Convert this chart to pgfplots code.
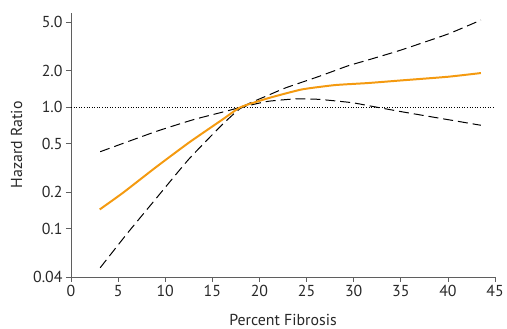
\documentclass[border=0pt]{standalone}
\usepackage{pgfplots}
\pgfplotsset{compat=1.18}
\usepackage{fontspec}
\setmainfont{PT Sans}
\definecolor{orng}{RGB}{244,154,16}
\definecolor{axgray}{RGB}{95,95,95}
\definecolor{txt}{RGB}{40,40,40}
\begin{document}
\begin{tikzpicture}
\begin{axis}[
  scale only axis, width=426bp, height=265.6bp,
  xmin=0, xmax=45, ymin=0.04, ymax=6,
  ymode=log,
  axis lines=left,
  axis line style={-, axgray, line width=0.8pt},
  xtick={0,5,...,45},
  ytick={0.04,0.1,0.2,0.5,1,2,5},
  yticklabels={0.04,0.1,0.2,0.5,1.0,2.0,5.0},
  yminorticks=false, xminorticks=false,
  tick align=outside, major tick length=5bp,
  tick style={axgray, line width=0.8pt},
  /pgf/number format/assume math mode=true,
  tick label style={font=\fontsize{16}{18}\selectfont, text=txt},
  label style={font=\fontsize{16}{18}\selectfont, text=txt},
  xlabel={Percent Fibrosis}, ylabel={Hazard Ratio},
  xlabel style={at={(axis description cs:0.5,-0.1822)}, anchor=base},
  ylabel style={at={(axis description cs:-0.115,0.5)}, anchor=base},
  clip=false,
]
\coordinate (SW) at (rel axis cs:0,0);
\coordinate (NE) at (rel axis cs:1,1);
\addplot[black, line width=0.7pt, dash pattern=on 1bp off 1.6bp] coordinates {(0,1) (45,1)};
% upper CI
\addplot[black, line width=1pt, dash pattern=on 10bp off 5bp, smooth, tension=0.3] coordinates {
(3.1,0.43) (9,0.63) (13,0.79) (16.06,0.91) (18,1.0) (19.2,1.1) (21,1.26) (22.75,1.44) (26.3,1.79) (29.4,2.19) (31.55,2.45) (35,2.95) (40,4.0) (43.5,5.21)};
% lower CI
\addplot[black, line width=1pt, dash pattern=on 10bp off 5bp, smooth, tension=0.3] coordinates {
(3.1,0.0477) (6,0.092) (9,0.176) (12.5,0.373) (16.06,0.72) (18,0.98) (19.5,1.06) (21,1.12) (23.8,1.17) (26.3,1.16) (29.8,1.09) (31.55,1.03) (35,0.92) (40,0.79) (43.5,0.71)};
% estimate
\addplot[orng, line width=2pt, smooth, tension=0.3] coordinates {
(3.05,0.144) (5.5,0.197) (9,0.32) (12.5,0.51) (16.06,0.79) (18,1.0) (21,1.19) (24.5,1.40) (28,1.52) (31.5,1.58) (35,1.66) (40,1.78) (43.5,1.91)};
\end{axis}
\path ([shift={(-71.3bp,-50.7bp)}]SW) rectangle ([shift={(9.7bp,12.7bp)}]NE);
\end{tikzpicture}
\end{document}
